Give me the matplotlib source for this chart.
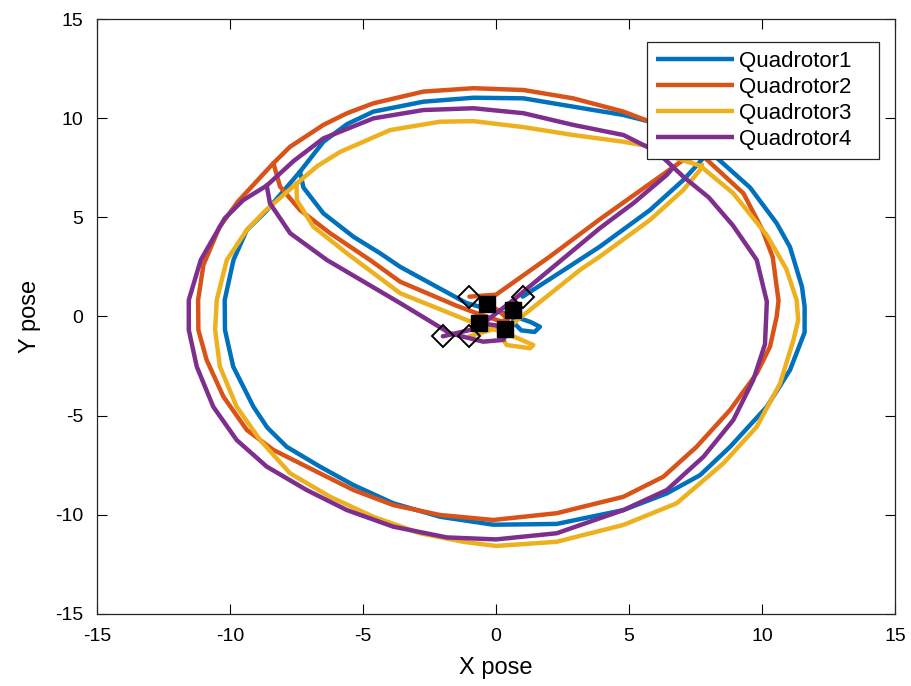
import matplotlib
matplotlib.use("Agg")
import matplotlib.pyplot as plt

plt.rcParams['font.family'] = ['Liberation Sans', 'DejaVu Sans']
plt.rcParams['axes.unicode_minus'] = False

names = ["Quadrotor1", "Quadrotor2", "Quadrotor3", "Quadrotor4"]
colors = ["#0072BD", "#D95319", "#EDB120", "#7E2F8E"]

# outbound leg: start -> upper right corner of the loop
q1_out_x = [1.0, 2.5, 3.9, 5.79, 7.04, 7.67, 7.9]
q1_out_y = [1.0, 2.3, 3.52, 5.37, 6.88, 7.8, 8.2]
q2_out_x = [-1.0, 0.0, 2.0, 3.9, 5.16, 6.42, 7.1, 7.8]
q2_out_y = [1.0, 1.1, 3.0, 4.9, 6.1, 7.3, 7.95, 8.06]
q3_out_x = [-1.0, 0.0, 0.65, 3.16, 3.9, 5.79, 7.04, 7.67, 7.75]
q3_out_y = [-1.0, -0.6, -0.34, 2.35, 3.02, 4.87, 6.38, 7.39, 7.65]
q4_out_x = [-2.0, -0.73, 0.65, 3.9, 5.16, 6.42, 6.65]
q4_out_y = [-1.0, -0.6, 0.83, 4.45, 5.71, 7.14, 7.5]

# loop, clockwise from the upper left corner
q1_loop_x = [-7.37, -6.49, -5.6, -4.61, -2.73, -0.85, 1.03, 2.9, 4.79, 5.79, 7.1, 8.3, 9.55, 10.55, 11.05,
             11.5, 11.6, 11.6, 11.05, 10.18, 8.8, 7.67, 6.42, 4.79, 2.28, -0.1, -2.1, -3.86, -5.36,
             -6.62, -7.87, -8.6, -9.12, -9.88, -10.19, -10.2, -9.87, -9.37, -8.65, -7.37]
q1_loop_y = [7.3, 8.81, 9.7, 10.33, 10.83, 11.03, 11.0, 10.58, 10.16, 9.82, 9.0, 8.0, 6.5, 4.7, 3.5,
             1.5, 0.5, -0.8, -2.7, -4.55, -6.57, -8.0, -8.92, -9.76, -10.46, -10.5, -10.1, -9.42, -8.5,
             -7.57, -6.57, -5.6, -4.55, -2.53, -0.68, 0.83, 2.85, 4.36, 5.3, 7.3]
q2_loop_x = [-8.37, -7.74, -6.49, -5.6, -4.61, -2.73, -0.85, 1.03, 2.9, 4.79, 5.79, 6.9, 7.8, 9.3, 10.0,
             10.4, 10.62, 10.55, 10.3, 9.8, 8.8, 7.54, 6.29, 4.79, 2.28, -0.1, -2.1, -3.86, -5.36,
             -6.87, -8.37, -9.37, -10.25, -10.88, -11.19, -11.2, -11.0, -10.4, -9.7, -8.37]
q2_loop_y = [7.73, 8.56, 9.66, 10.25, 10.75, 11.34, 11.51, 11.42, 11.0, 10.33, 9.82, 8.9, 8.06, 6.21, 4.4,
             3.0, 0.8, 0.0, -1.52, -2.87, -4.71, -6.57, -8.08, -9.09, -9.92, -10.26, -10.01, -9.51, -8.75,
             -7.74, -6.73, -5.72, -4.04, -2.19, -0.68, 0.83, 2.6, 4.5, 5.8, 7.73]
q3_loop_x = [-7.5, -6.7, -5.86, -3.98, -2.11, -0.85, 1.03, 2.9, 4.79, 5.67, 6.79, 7.67, 8.92, 10.18,
             10.91, 11.3, 11.36, 11.18, 10.68, 9.8, 8.55, 6.79, 4.79, 2.28, 0.0, -1.23, -2.86, -4.61,
             -6.24, -7.74, -8.87, -9.75, -10.38, -10.56, -10.5, -10.12, -9.37, -8.7, -7.5]
q3_loop_y = [6.7, 7.6, 8.3, 9.4, 9.82, 9.85, 9.55, 9.15, 8.81, 8.6, 7.98, 7.6, 6.21, 4.1,
             2.4, 0.83, -0.18, -1.19, -3.37, -5.56, -7.4, -9.42, -10.51, -11.36, -11.57, -11.36, -10.93, -10.1,
             -9.09, -7.91, -6.23, -4.55, -2.53, -0.68, 0.83, 2.85, 4.36, 5.3, 6.7]
q4_loop_x = [-8.62, -7.6, -6.49, -4.61, -2.73, -0.85, 1.03, 2.9, 4.79, 6.04, 7.04, 8.0, 8.9, 9.8,
             10.18, 10.11, 9.67, 8.92, 7.8, 6.42, 4.79, 2.28, 0.0, -1.85, -3.86, -5.61, -7.12, -8.62,
             -9.75, -10.63, -11.25, -11.55, -11.55, -11.1, -10.2, -9.5, -8.62]
q4_loop_y = [6.6, 7.85, 8.98, 9.99, 10.41, 10.5, 10.25, 9.66, 9.15, 8.31, 7.05, 6.0, 4.6, 2.85,
             0.75, -1.4, -3.2, -5.22, -7.07, -8.75, -9.76, -10.93, -11.24, -11.14, -10.6, -9.76, -8.75, -7.57,
             -6.23, -4.55, -2.53, -0.68, 0.83, 2.85, 4.95, 5.87, 6.6]

# return leg: upper left corner -> final formation point
q1_back_x = [-7.37, -7.24, -6.49, -5.36, -4.36, -3.6, -1.1, 0.53, 1.3, 1.65, 1.45, 0.95, 0.65, 0.65]
q1_back_y = [7.3, 6.5, 5.2, 4.02, 3.19, 2.5, 0.67, 0.08, -0.28, -0.52, -0.78, -0.7, -0.3, 0.33]
q2_back_x = [-8.37, -8.12, -7.37, -6.24, -4.74, -3.6, -1.5, -0.6, 0.2, 0.45, 0.1, -0.33]
q2_back_y = [7.73, 6.55, 5.37, 4.2, 2.85, 1.75, 0.55, 0.1, -0.25, -0.15, 0.3, 0.63]
q3_back_x = [-7.5, -7.49, -6.87, -5.61, -3.6, -1.1, 0.53, 1.4, 1.28, 0.4, 0.2, 0.34]
q3_back_y = [6.7, 5.87, 4.53, 3.19, 1.17, -0.18, -0.93, -1.44, -1.6, -1.44, -1.0, -0.63]
q4_back_x = [-8.62, -8.5, -7.74, -6.36, -3.6, -1.73, -0.48, 0.28, 0.4, 0.0, -0.63]
q4_back_y = [6.6, 5.71, 4.2, 2.85, 0.67, -0.85, -1.27, -1.18, -0.77, -0.45, -0.33]

outs = [(q1_out_x, q1_out_y), (q2_out_x, q2_out_y), (q3_out_x, q3_out_y), (q4_out_x, q4_out_y)]
loops = [(q1_loop_x, q1_loop_y), (q2_loop_x, q2_loop_y), (q3_loop_x, q3_loop_y), (q4_loop_x, q4_loop_y)]
backs = [(q1_back_x, q1_back_y), (q2_back_x, q2_back_y), (q3_back_x, q3_back_y), (q4_back_x, q4_back_y)]

fig = plt.figure(figsize=(9.11, 6.86), dpi=100)
ax = fig.add_axes([0.1065, 0.105, 0.876, 0.8673])

lw = 3.2
handles = []
for i in range(4):
    c = colors[i]
    ox, oy = outs[i]
    lx, ly = loops[i]
    bx, by = backs[i]
    h, = ax.plot(ox, oy, color=c, lw=lw, solid_joinstyle='round', solid_capstyle='round')
    ax.plot(lx, ly, color=c, lw=lw, solid_joinstyle='round', solid_capstyle='round')
    ax.plot(bx, by, color=c, lw=lw, solid_joinstyle='round', solid_capstyle='round')
    handles.append(h)

# start and end markers
for i in range(4):
    ox, oy = outs[i]
    bx, by = backs[i]
    ax.plot(ox[0], oy[0], marker='D', ms=11, mfc='none', mec='black', mew=1.4, zorder=5)
    ax.plot(bx[-1], by[-1], marker='s', ms=11, mfc='black', mec='black', zorder=5)

ax.set_xlim(-15, 15)
ax.set_ylim(-15, 15)
ax.set_xticks(range(-15, 16, 5))
ax.set_yticks(range(-15, 16, 5))
ax.tick_params(direction='in', top=True, right=True, labelsize=14, length=7, width=0.8, pad=10)
for s in ax.spines.values():
    s.set_linewidth(0.9)
    s.set_color('#262626')

ax.set_xlabel("X pose", fontsize=17, labelpad=9)
ax.set_ylabel("Y pose", fontsize=17, labelpad=10)

# legend: padded labels give the wide MATLAB-style box
leg = ax.legend(handles, [n + "   " for n in names], loc='upper left',
                bbox_to_anchor=((647 - 97) / 798, (614 - 42) / 595), borderaxespad=0,
                fontsize=16, handlelength=3.5, handletextpad=0.25, labelspacing=0.23,
                fancybox=False, framealpha=1, edgecolor='#262626', borderpad=0.4)
leg.get_frame().set_linewidth(0.9)
for line in leg.get_lines():
    line.set_solid_capstyle('butt')

fig.savefig("out.png", dpi=100)
